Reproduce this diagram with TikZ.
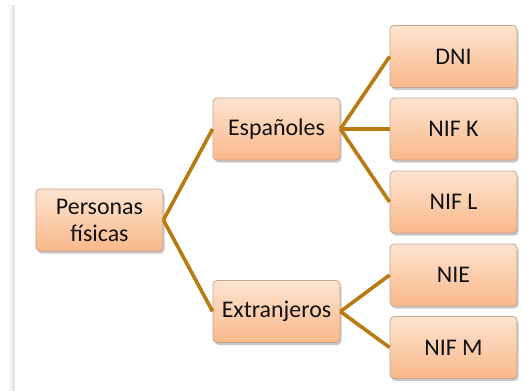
\documentclass[tikz,border=0pt]{standalone}
\usepackage{fontspec}
\setmainfont{Carlito}
\usetikzlibrary{shadows}
\definecolor{boxtop}{HTML}{FDE4D0}
\definecolor{boxbot}{HTML}{F9B88A}
\definecolor{boxline}{HTML}{C9A58C}
\definecolor{conn}{HTML}{B97A10}
\definecolor{txt}{HTML}{111111}
\begin{document}
\begin{tikzpicture}[x=1bp,y=-1bp,
  box/.style={draw=boxline, line width=0.8bp, rounded corners=4bp,
    top color=boxtop, bottom color=boxbot,
    minimum width=127bp, minimum height=62bp, inner sep=0pt,
    align=center, text=txt,
    font=\fontsize{24}{27}\selectfont,
    drop shadow={shadow xshift=1.5bp, shadow yshift=-2.5bp, opacity=0.35, fill=black!60}},
  link/.style={draw=conn, line width=3.6bp}]
\useasboundingbox (0,0) rectangle (522,390);
\fill[white] (0,0) rectangle (522,390);
\shade[left color=white, right color=black!12] (8,5) rectangle (14.5,390);
\node[box] (pf) at (99.5,220) {Personas\\físicas};
\node[box] (es) at (276.5,129) {Españoles};
\node[box] (ex) at (276.5,311.5) {Extranjeros};
\node[box] (dni) at (453.5,56.5) {DNI};
\node[box] (nk) at (453.5,129) {NIF K};
\node[box] (nl) at (453.5,202) {NIF L};
\node[box] (nie) at (453.5,275) {NIE};
\node[box] (nm) at (453.5,347.5) {NIF M};
\draw[link] (pf.east) -- (es.west);
\draw[link] (pf.east) -- (ex.west);
\draw[link] (es.east) -- (dni.west);
\draw[link] (es.east) -- (nk.west);
\draw[link] (es.east) -- (nl.west);
\draw[link] (ex.east) -- (nie.west);
\draw[link] (ex.east) -- (nm.west);
\end{tikzpicture}
\end{document}
